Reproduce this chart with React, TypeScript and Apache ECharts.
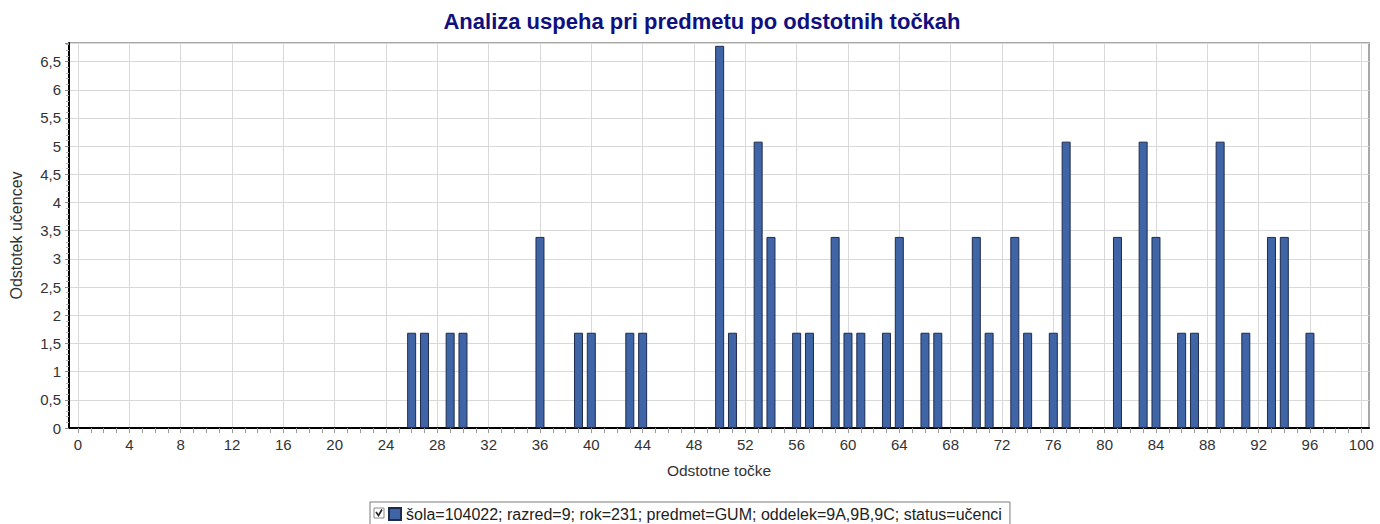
import React, { useEffect, useRef } from "react";
import * as echarts from "echarts";

const scores = [26, 27, 29, 30, 36, 39, 40, 43, 44, 50, 51, 53, 54, 56, 57, 59, 60, 61, 63, 64, 66, 67, 70, 71, 73, 74, 76, 77, 81, 83, 84, 86, 87, 89, 91, 93, 94, 96];
const percents = [1.69, 1.69, 1.69, 1.69, 3.39, 1.69, 1.69, 1.69, 1.69, 6.78, 1.69, 5.08, 3.39, 1.69, 1.69, 3.39, 1.69, 1.69, 1.69, 3.39, 1.69, 1.69, 3.39, 1.69, 3.39, 1.69, 1.69, 5.08, 3.39, 5.08, 3.39, 1.69, 1.69, 5.08, 1.69, 3.39, 3.39, 1.69];
const xTickLabels = [0, 4, 8, 12, 16, 20, 24, 28, 32, 36, 40, 44, 48, 52, 56, 60, 64, 68, 72, 76, 80, 84, 88, 92, 96, 100];
const xMinorTicks = [0, 1, 2, 3, 4, 5, 6, 7, 8, 9, 10, 11, 12, 13, 14, 15, 16, 17, 18, 19, 20, 21, 22, 23, 24, 25, 26, 27, 28, 29, 30, 31, 32, 33, 34, 35, 36, 37, 38, 39, 40, 41, 42, 43, 44, 45, 46, 47, 48, 49, 50, 51, 52, 53, 54, 55, 56, 57, 58, 59, 60, 61, 62, 63, 64, 65, 66, 67, 68, 69, 70, 71, 72, 73, 74, 75, 76, 77, 78, 79, 80, 81, 82, 83, 84, 85, 86, 87, 88, 89, 90, 91, 92, 93, 94, 95, 96, 97, 98, 99, 100];
const seriesName = "šola=104022; razred=9; rok=231; predmet=GUM; oddelek=9A,9B,9C; status=učenci";
const titleText = "Analiza uspeha pri predmetu po odstotnih točkah";
const xAxisTitle = "Odstotne točke";
const yAxisTitle = "Odstotek učencev";

const FONT = "'Liberation Sans', Arial, sans-serif";

export default function App() {
  const ref = useRef<HTMLDivElement>(null);
  useEffect(() => {
    if (!ref.current) return;
    const chart = echarts.init(ref.current, undefined, { renderer: "svg" });
    const data = scores.map((s, i) => [s, percents[i]]);
    chart.setOption({
      animation: false,
      backgroundColor: "#ffffff",
      textStyle: { fontFamily: FONT },
      title: {
        text: titleText,
        left: 697,
        top: 5,
        textAlign: "center",
        textStyle: { fontFamily: FONT, fontSize: 22, fontWeight: "bold", color: "#10107f" },
      },
      grid: {
        left: 69,
        right: 11,
        top: 43,
        bottom: 96,
        show: true,
        borderColor: "#8a8a8a",
        borderWidth: 1.5,
        containLabel: false,
        outerBoundsMode: "none",
      },
      legend: {
        left: 370,
        top: 502,
        padding: [4, 8, 4, 18],
        borderColor: "#7a7a7a",
        borderWidth: 1,
        itemWidth: 12,
        itemHeight: 12,
        icon: "rect",
        selectedMode: false,
        textStyle: { fontFamily: FONT, fontSize: 16, color: "#222" },
        data: [seriesName],
      },
      xAxis: [
        {
          type: "value",
          min: -0.7,
          max: 100.6,
          name: xAxisTitle,
          nameLocation: "middle",
          nameGap: 34,
          nameTextStyle: { fontFamily: FONT, fontSize: 15.5, color: "#333" },
          axisLine: { show: true, onZero: false, lineStyle: { color: "#000", width: 2 } },
          axisTick: { show: true, length: 5, customValues: xMinorTicks, lineStyle: { color: "#9a9a9a" } },
          axisLabel: { customValues: xTickLabels, fontSize: 15, color: "#333", margin: 9, fontFamily: FONT },
          splitLine: { show: false },
        },
        {
          type: "value",
          min: -0.7,
          max: 100.6,
          position: "top",
          axisLine: { show: false },
          axisTick: { show: false, customValues: xTickLabels },
          axisLabel: { show: false, customValues: xTickLabels },
          splitLine: { show: true, lineStyle: { color: "#d9d9d9", width: 1 } },
        },
      ],
      yAxis: {
        type: "value",
        min: 0,
        max: 6.83,
        interval: 0.5,
        name: yAxisTitle,
        nameLocation: "middle",
        nameGap: 45,
        nameTextStyle: { fontFamily: FONT, fontSize: 16, color: "#333" },
        axisLine: { show: true, onZero: false, lineStyle: { color: "#000", width: 2 } },
        axisTick: { show: true, length: 4, lineStyle: { color: "#8a8a8a" } },
        minorTick: { show: true, splitNumber: 5, length: 3, lineStyle: { color: "#b0b0b0" } },
        axisLabel: {
          showMaxLabel: false,
          fontSize: 15,
          color: "#333",
          margin: 8,
          fontFamily: FONT,
          formatter: (v: number) => String(v).replace(".", ","),
        },
        splitLine: { show: true, lineStyle: { color: "#d9d9d9", width: 1 } },
      },
      graphic: [
        {
          type: "rect",
          shape: { x: 374, y: 508, width: 10, height: 10 },
          style: { fill: "#fff", stroke: "#8a8a8a", lineWidth: 1 },
          z: 100,
        },
        {
          type: "polyline",
          shape: { points: [[376, 512], [378.5, 515.5], [382, 509.5]] },
          style: { fill: "none", stroke: "#222", lineWidth: 1.6 },
          z: 101,
        },
      ],
      series: [
        {
          name: seriesName,
          type: "bar",
          xAxisIndex: 0,
          barWidth: 9,
          data,
          itemStyle: { color: "#4065a6", borderColor: "#1d2b4d", borderWidth: 1 },
        },
      ],
    });
    return () => chart.dispose();
  }, []);
  return <div ref={ref} style={{ width: 1380, height: 524, position: "absolute", left: 0, top: 0 }} />;
}
